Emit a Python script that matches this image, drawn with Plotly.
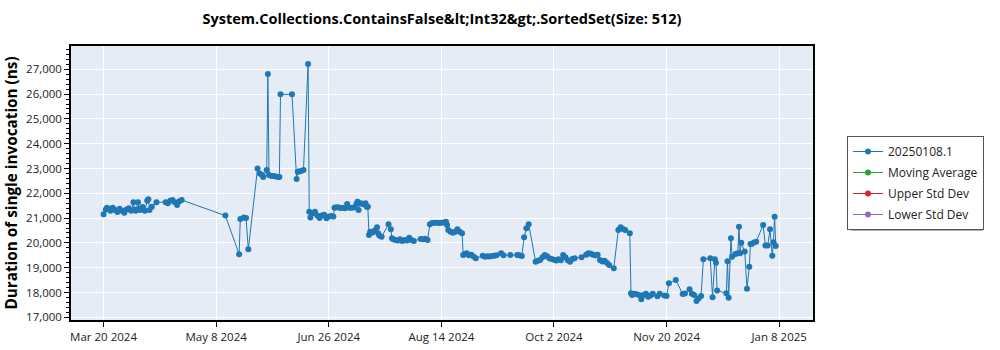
import plotly.graph_objects as go

dates = [
    "2024-03-20", "2024-03-21", "2024-03-21 12:00", "2024-03-22", "2024-03-23", "2024-03-24",
    "2024-03-25", "2024-03-26", "2024-03-27", "2024-03-28", "2024-03-29", "2024-03-30",
    "2024-03-31", "2024-04-01", "2024-04-02", "2024-04-02 12:00", "2024-04-03", "2024-04-04",
    "2024-04-04 12:00", "2024-04-05", "2024-04-06", "2024-04-07", "2024-04-08", "2024-04-08 12:00",
    "2024-04-09", "2024-04-10", "2024-04-12", "2024-04-16", "2024-04-17", "2024-04-18",
    "2024-04-19", "2024-04-20", "2024-04-21", "2024-04-22", "2024-04-23",
    "2024-05-12", "2024-05-18", "2024-05-18 12:00", "2024-05-20", "2024-05-21", "2024-05-22",
    "2024-05-26", "2024-05-27", "2024-05-28", "2024-05-28 12:00", "2024-05-30", "2024-05-30 12:00",
    "2024-05-31", "2024-06-01", "2024-06-02", "2024-06-03", "2024-06-04", "2024-06-04 12:00",
    "2024-06-05", "2024-06-10", "2024-06-12", "2024-06-12 12:00", "2024-06-13", "2024-06-14",
    "2024-06-15", "2024-06-17", "2024-06-17 12:00", "2024-06-18", "2024-06-19", "2024-06-20",
    "2024-06-21", "2024-06-22",
    "2024-06-23", "2024-06-24", "2024-06-25", "2024-06-26", "2024-06-27", "2024-06-28",
    "2024-06-28 12:00", "2024-06-29", "2024-06-30", "2024-07-01", "2024-07-02", "2024-07-03",
    "2024-07-04", "2024-07-05", "2024-07-06", "2024-07-07", "2024-07-08", "2024-07-08 12:00",
    "2024-07-09", "2024-07-10", "2024-07-11", "2024-07-12", "2024-07-12 12:00", "2024-07-13",
    "2024-07-13 12:00", "2024-07-14", "2024-07-15", "2024-07-16", "2024-07-17", "2024-07-17 12:00",
    "2024-07-18", "2024-07-19", "2024-07-22", "2024-07-23", "2024-07-23 12:00", "2024-07-24",
    "2024-07-25", "2024-07-26", "2024-07-27", "2024-07-28", "2024-07-29", "2024-07-30",
    "2024-07-31", "2024-08-01", "2024-08-02", "2024-08-05", "2024-08-06", "2024-08-07",
    "2024-08-08", "2024-08-09", "2024-08-10", "2024-08-11", "2024-08-12", "2024-08-13",
    "2024-08-14", "2024-08-15", "2024-08-16", "2024-08-16 12:00", "2024-08-17", "2024-08-18",
    "2024-08-19", "2024-08-20", "2024-08-21", "2024-08-22", "2024-08-23", "2024-08-23 12:00",
    "2024-08-24", "2024-08-25", "2024-08-26", "2024-08-27", "2024-08-28", "2024-08-29",
    "2024-09-01", "2024-09-02", "2024-09-03", "2024-09-04", "2024-09-05", "2024-09-06",
    "2024-09-07", "2024-09-09", "2024-09-10", "2024-09-13", "2024-09-16", "2024-09-17",
    "2024-09-18", "2024-09-19", "2024-09-20", "2024-09-21", "2024-09-24", "2024-09-25",
    "2024-09-26", "2024-09-27", "2024-09-28", "2024-09-29", "2024-09-30", "2024-10-01",
    "2024-10-02", "2024-10-03",
    "2024-10-04", "2024-10-05", "2024-10-06", "2024-10-07", "2024-10-08", "2024-10-09",
    "2024-10-10", "2024-10-11", "2024-10-14", "2024-10-16", "2024-10-17", "2024-10-18",
    "2024-10-19", "2024-10-20", "2024-10-21", "2024-10-22", "2024-10-23", "2024-10-24",
    "2024-10-25", "2024-10-26", "2024-10-28", "2024-10-30", "2024-10-31", "2024-11-01",
    "2024-11-02", "2024-11-04", "2024-11-04 12:00", "2024-11-05", "2024-11-06", "2024-11-07",
    "2024-11-08", "2024-11-09", "2024-11-10", "2024-11-11", "2024-11-12", "2024-11-13",
    "2024-11-14", "2024-11-16", "2024-11-17", "2024-11-19", "2024-11-20", "2024-11-21",
    "2024-11-24", "2024-11-27", "2024-11-28", "2024-11-30",
    "2024-12-01", "2024-12-02", "2024-12-03", "2024-12-04", "2024-12-05", "2024-12-06",
    "2024-12-09", "2024-12-10", "2024-12-11", "2024-12-11 12:00", "2024-12-12", "2024-12-16",
    "2024-12-16 12:00", "2024-12-17", "2024-12-18", "2024-12-18 12:00", "2024-12-20", "2024-12-21",
    "2024-12-21 12:00", "2024-12-22", "2024-12-22 12:00", "2024-12-24", "2024-12-25", "2024-12-26",
    "2024-12-26 12:00", "2024-12-27", "2024-12-28", "2024-12-29", "2025-01-01", "2025-01-02",
    "2025-01-03", "2025-01-04", "2025-01-05", "2025-01-05 12:00", "2025-01-06", "2025-01-06 12:00",
]

durations = [
    21150, 21350, 21420, 21380, 21300, 21420,
    21330, 21250, 21380, 21300, 21220, 21350,
    21400, 21300, 21640, 21350, 21300, 21640,
    21380, 21330, 21450, 21300, 21700, 21760,
    21330, 21460, 21640, 21640, 21600, 21700,
    21730, 21640, 21530, 21680, 21730,
    21100, 19540, 20960, 21020, 21000, 19740,
    23000, 22800, 22740, 22660, 22940, 26810,
    22740, 22700, 22700, 22680, 22660, 22660,
    25990, 25990, 22580, 22870, 22880, 22900,
    22940, 27210, 21260, 21020, 21200, 21260,
    21100, 21000,
    21100, 21130, 20990, 21060, 21080, 21060,
    21420, 21430, 21440, 21410, 21420, 21400,
    21570, 21420, 21420, 21430, 21570, 21660,
    21330, 21600, 21560, 21600, 21460, 21460,
    20320, 20450, 20420, 20500, 20630, 20390,
    20300, 20250, 20750, 20550, 20190, 20150,
    20120, 20100, 20150, 20080, 20120, 20100,
    20210, 20120, 20080, 20160, 20150, 20170,
    20120, 20750, 20800, 20810, 20815, 20800,
    20815, 20820, 20855, 20720, 20520, 20450,
    20410, 20450, 20550, 20450, 20390, 19510,
    19540, 19580, 19500, 19520, 19450, 19380,
    19480, 19440, 19460, 19450, 19470, 19480,
    19500, 19580, 19500, 19510, 19510, 19500,
    19470, 20225, 20590, 20750, 19240, 19280,
    19310, 19420, 19510, 19460, 19380, 19350,
    19320, 19285,
    19340, 19300, 19510, 19420, 19300, 19240,
    19350, 19380, 19420, 19520, 19580, 19560,
    19520, 19500, 19520, 19310, 19250, 19280,
    19200, 19110, 18975, 20520, 20630, 20560,
    20520, 20390, 17970, 17900, 17950, 17930,
    17900, 17725, 17900, 17950, 17830, 17880,
    17950, 17850, 17950, 17880, 17860, 18370,
    18505, 17940, 17960, 18130,
    17950, 17900, 17660, 17770, 17860, 19340,
    19380, 17810, 19340, 19200, 18075, 17970,
    19260, 17790, 20185, 19445, 19550, 19580,
    20655, 19580, 20010, 19650, 18155, 19040,
    19955, 19955, 20020, 20050, 20720, 19890,
    19890, 20550, 19485, 20025, 21057, 19875,
]

series_names = ["20250108.1", "Moving Average", "Upper Std Dev", "Lower Std Dev"]
series_colors = ["#1f77b4", "#2ca02c", "#d62728", "#9467bd"]

title_text = "System.Collections.ContainsFalse&amp;lt;Int32&amp;gt;.SortedSet(Size: 512)"
y_title = "Duration of single invocation (ns)"

FONT = "Open Sans"

fig = go.Figure()
fig.add_trace(go.Scatter(
    x=dates, y=durations, mode="lines+markers", name=series_names[0],
    legendgroup="g0",
    line=dict(color=series_colors[0], width=1),
    marker=dict(color=series_colors[0], size=6),
))
for i, (nm, col) in enumerate(zip(series_names[1:], series_colors[1:]), start=1):
    fig.add_trace(go.Scatter(
        x=[None], y=[None], mode="lines+markers", name=nm, legendgroup=f"g{i}",
        line=dict(color=col, width=1), marker=dict(color=col, size=6),
    ))

# legend drop shadow (decoration), in paper coordinates
L, R, T, B = 71, 813, 46, 320
def px_x(p):
    return (p - L) / (R - L)
def px_y(p):
    return (B - p) / (B - T)

fig.add_shape(type="rect", xref="paper", yref="paper",
              x0=px_x(851), x1=px_x(983), y0=px_y(231), y1=px_y(140),
              fillcolor="rgba(0,0,0,0.3)", line=dict(width=0), layer="above")

fig.update_layout(
    width=1000, height=350,
    margin=dict(l=L, r=1000 - R, t=T, b=350 - B),
    paper_bgcolor="white",
    plot_bgcolor="#E5ECF6",
    font=dict(family=FONT, size=12, color="#222"),
    title=dict(text=title_text, x=0.5, xref="paper", xanchor="center",
               y=0.945, yanchor="middle",
               font=dict(family=FONT, size=14.5, color="black", weight="bold")),
    showlegend=True,
    legend=dict(x=px_x(847), y=px_y(136), xanchor="left", yanchor="top",
                bgcolor="white", bordercolor="#555", borderwidth=1,
                font=dict(family=FONT, size=12, color="#222"),
                tracegroupgap=2, itemwidth=30, entrywidth=92),
    xaxis=dict(
        type="date",
        range=["2024-03-05 20:00", "2025-01-22 17:00"],
        tick0="2024-03-20", dtick=49 * 86400000,
        tickformat="%b %-d %Y",
        showgrid=True, gridcolor="white", gridwidth=1.2,
        showline=True, linecolor="black", linewidth=1.5, mirror=True,
        ticks="outside", ticklen=5, tickcolor="black",
        zeroline=False, automargin=False,
        tickfont=dict(family=FONT, size=11.5, color="#222"),
    ),
    yaxis=dict(
        range=[16890, 27940],
        dtick=1000, tick0=0,
        tickformat=",d",
        showgrid=True, gridcolor="white", gridwidth=1.2,
        showline=True, linecolor="black", linewidth=1.5, mirror=True,
        ticks="outside", ticklen=5, tickcolor="black",
        minor=dict(dtick=200, ticks="outside", ticklen=3, tickcolor="black", showgrid=False),
        zeroline=False, automargin=False,
        title=dict(text=y_title, font=dict(family=FONT, size=15.3, color="black", weight="bold"), standoff=5),
        tickfont=dict(family=FONT, size=11.5, color="#222"),
    ),
)

fig.write_html("out.html")
